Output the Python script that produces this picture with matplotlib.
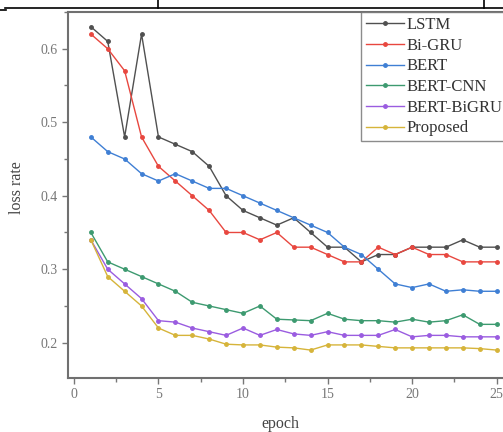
import numpy as np
import matplotlib
matplotlib.use("Agg")
import matplotlib.pyplot as plt
from matplotlib.lines import Line2D
from matplotlib.ticker import MultipleLocator

plt.rcParams['font.family'] = ['Liberation Serif', 'DejaVu Serif']

epochs = np.arange(1, 26)

lstm = [0.63, 0.61, 0.48, 0.62, 0.48, 0.47, 0.46, 0.44, 0.40, 0.38, 0.37, 0.36, 0.37,
        0.35, 0.33, 0.33, 0.31, 0.32, 0.32, 0.33, 0.33, 0.33, 0.34, 0.33, 0.33]
bigru = [0.62, 0.60, 0.57, 0.48, 0.44, 0.42, 0.40, 0.38, 0.35, 0.35, 0.34, 0.35, 0.33,
         0.33, 0.32, 0.31, 0.31, 0.33, 0.32, 0.33, 0.32, 0.32, 0.31, 0.31, 0.31]
bert = [0.48, 0.46, 0.45, 0.43, 0.42, 0.43, 0.42, 0.41, 0.41, 0.40, 0.39, 0.38, 0.37,
        0.36, 0.35, 0.33, 0.32, 0.30, 0.28, 0.275, 0.28, 0.27, 0.272, 0.27, 0.27]
bert_cnn = [0.35, 0.31, 0.30, 0.29, 0.28, 0.27, 0.255, 0.25, 0.245, 0.24, 0.25, 0.232, 0.231,
            0.23, 0.24, 0.232, 0.23, 0.23, 0.228, 0.232, 0.228, 0.23, 0.238, 0.225, 0.225]
bert_bigru = [0.34, 0.30, 0.28, 0.26, 0.23, 0.228, 0.22, 0.215, 0.21, 0.22, 0.21, 0.218, 0.212,
              0.21, 0.215, 0.21, 0.21, 0.21, 0.218, 0.208, 0.21, 0.21, 0.208, 0.208, 0.208]
proposed = [0.34, 0.29, 0.27, 0.25, 0.22, 0.21, 0.21, 0.205, 0.198, 0.197, 0.197, 0.194, 0.193,
            0.19, 0.197, 0.197, 0.197, 0.195, 0.193, 0.193, 0.193, 0.193, 0.193, 0.192, 0.19]

labels = ['LSTM', 'Bi-GRU', 'BERT', 'BERT-CNN', 'BERT-BiGRU', 'Proposed']
colors = ['#505050', '#e8473f', '#3f7fd4', '#3d9a70', '#9a5ce0', '#d6b43a']
series = [lstm, bigru, bert, bert_cnn, bert_bigru, proposed]

fig = plt.figure(figsize=(5.03, 4.32), dpi=100)
ax = fig.add_axes([68 / 503, 54 / 432, 454 / 503, 366 / 432])

for vals, lab, c in zip(series, labels, colors):
    ax.plot(epochs, vals, color=c, lw=1.0, marker='o', ms=2.5, label=lab)

ax.set_xlim(-0.35, 26.5)
ax.set_ylim(0.152, 0.65)
ax.xaxis.set_major_locator(MultipleLocator(5))
ax.xaxis.set_minor_locator(MultipleLocator(2.5))
ax.yaxis.set_major_locator(MultipleLocator(0.1))
ax.yaxis.set_minor_locator(MultipleLocator(0.05))
ax.tick_params(which='both', direction='out', colors='#777777', labelsize=10, width=1)
ax.tick_params(which='major', length=4)
ax.tick_params(which='minor', length=3)
for s in ax.spines.values():
    s.set_color('#707070')
    s.set_linewidth(1.5)

ax.set_xlabel('epoch', fontsize=11.5, color='#444444')
ax.set_ylabel('loss rate', fontsize=11.5, color='#444444')
ax.xaxis.set_label_coords(0.467, -0.105)
ax.yaxis.set_label_coords(-0.095, 0.52)

leg = fig.legend(loc='upper left', bbox_to_anchor=(361 / 503, 1 - 12 / 432),
                 borderaxespad=0, fancybox=False, fontsize=12, handlelength=2.3,
                 handletextpad=0.15, labelspacing=0.28, borderpad=0.3)
leg.get_frame().set_edgecolor('#707070')
leg.get_frame().set_linewidth(1.0)
for t in leg.get_texts():
    t.set_color('#333333')

# table border remnants above the figure
fig.add_artist(Line2D([0.01, 1.0], [1 - 8 / 432, 1 - 8 / 432], color='black', lw=1.2))
fig.add_artist(Line2D([0.0, 0.012], [1 - 10 / 432, 1 - 10 / 432], color='black', lw=1.2))
fig.add_artist(Line2D([158 / 503, 158 / 503], [1 - 8 / 432, 1.0], color='black', lw=1.2))
fig.add_artist(Line2D([484 / 503, 484 / 503], [1 - 8 / 432, 1.0], color='black', lw=1.2))

fig.savefig('out.png', dpi=100)
